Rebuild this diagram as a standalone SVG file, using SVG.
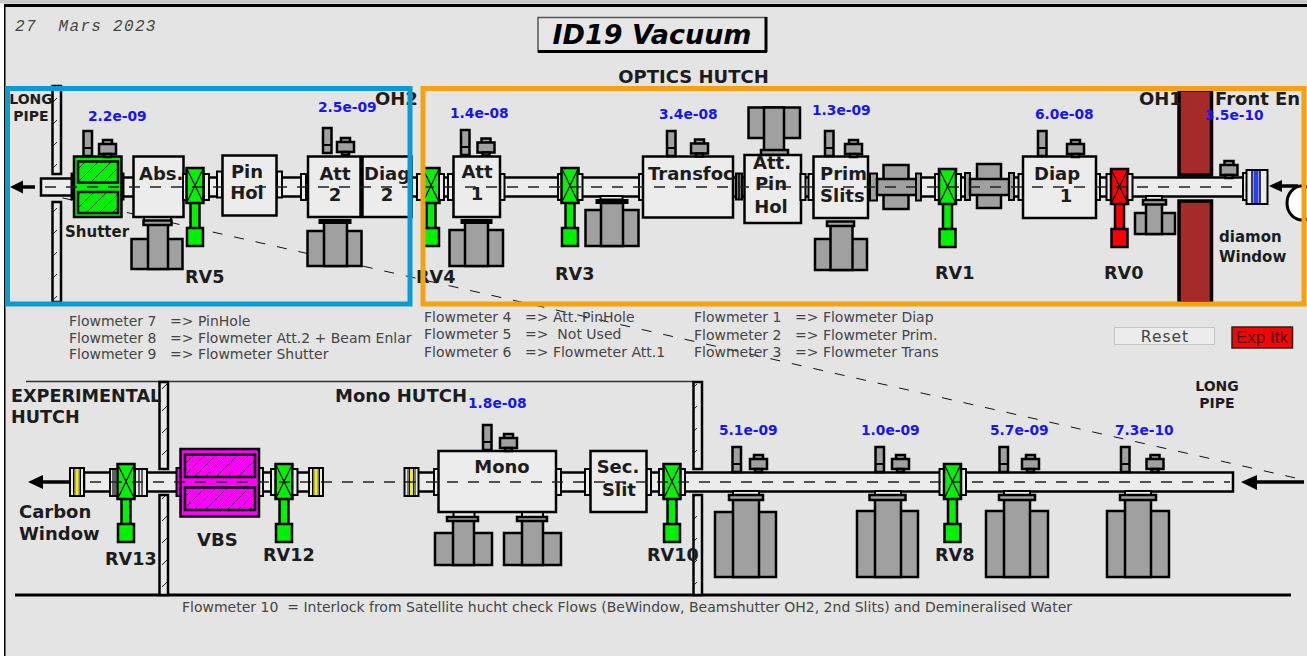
<svg xmlns="http://www.w3.org/2000/svg" xmlns:xlink="http://www.w3.org/1999/xlink" width="1307" height="656" viewBox="0 0 1307 656" stroke="#000">
<style>
text{stroke:none}
.p{fill:#ececec;stroke-width:2.5}
.f{fill:#ececec;stroke-width:2}
.df{fill:#a0a0a0;stroke-width:2}
.b{fill:#ececec;stroke-width:2.5}
.g{fill:#a0a0a0;stroke-width:2.5}
.k{fill:#000;stroke-width:1}
.w{fill:url(#wh);stroke-width:2.5}
.br{fill:#a52a2a;stroke-width:3.5}
.t{font-family:"DejaVu Sans",sans-serif;font-weight:700;fill:#1c1c1c}
.l17{font-size:17.600px}.l18{font-size:18px}.l15{font-size:15px}.l13{font-size:14px}
.v{font-family:"DejaVu Sans",sans-serif;font-weight:700;font-size:13.800px;fill:#1414ff}
.m{font-family:"DejaVu Sans",sans-serif;font-size:14px;fill:#444}
.c{text-anchor:middle}
.cl{fill:none;stroke:#222;stroke-width:1.500;stroke-dasharray:11 10}
.dg{fill:none;stroke:#111;stroke-width:1;stroke-dasharray:10 12}
.ar{fill:none;stroke:#000;stroke-width:3.500}
.ah{fill:#000;stroke:none}
</style>
<defs>
<pattern id="wh" patternUnits="userSpaceOnUse" width="10" height="22"><rect width="10" height="22" fill="#e8e8e8" stroke="none"/><path d="M2 15 L7 10" stroke="#222" stroke-width="1" fill="none"/></pattern>
<pattern id="gh" patternUnits="userSpaceOnUse" width="13" height="13"><rect width="13" height="13" fill="#00f000" stroke="none"/><path d="M-1 14 L14 -1" stroke="#222" stroke-width=".8" fill="none"/></pattern>
<pattern id="mh" patternUnits="userSpaceOnUse" width="11" height="11"><rect width="11" height="11" fill="#ff00ff" stroke="none"/><path d="M-1 12 L12 -1" stroke="#222" stroke-width=".8" fill="none" stroke-dasharray="7 2"/></pattern>
<g id="valve"><rect x="-4.500" y="16" width="9" height="27" stroke-width="2.500"/><rect x="-8" y="42" width="16" height="18" stroke-width="2.500"/><rect x="-8.500" y="-18" width="17" height="35" stroke-width="2.500"/><path d="M-8.500 -18 L8.500 17 M8.500 -18 L-8.500 17" fill="none" stroke-width="1.200"/></g>
<g id="gauge"><rect class="g" x="0" y="0" width="8.500" height="25"/><path d="M0 17H8.500" stroke-width="2" fill="none"/></g>
<g id="sp"><rect class="g" x="4" y="0" width="9" height="5" stroke-width="2"/><rect class="g" x="0" y="4" width="17" height="10" stroke-width="2.500"/><rect class="g" x="5" y="14" width="7" height="3" stroke-width="2"/></g>
<g id="yf"><rect class="f" x="0" y="0" width="14" height="28"/><path d="M3.500 0V28M5 0V28M9 0V28M10.500 0V28" stroke-width="1" fill="none"/><rect x="5.500" y="1" width="3" height="26" fill="#f0f000" stroke="none"/></g>
<rect id="fl" class="f" x="0" y="0" width="5" height="26"/>
</defs>

<rect x="0" y="0" width="1307" height="656" fill="#fff" stroke="none"/>
<rect x="5" y="0" width="1302" height="656" fill="#e4e4e4" stroke="none"/>
<rect x="0" y="0" width="1307" height="3.500" fill="#c8c8c8" stroke="none"/>
<rect x="4" y="4" width="1303" height="3" fill="#000" stroke="none"/>
<rect x="4" y="6" width="1.500" height="650" fill="#000" stroke="none"/>

<g id="connectors-back">
<path class="dg" d="M41 193 L1300 479"/>
</g>

<g id="frame-lines">
<path d="M26 381.500H693" fill="none" stroke="#333" stroke-width="1.500"/>
<path d="M15 595H1291" fill="none" stroke="#000" stroke-width="3"/>
</g>

<g id="pipes-upper">
<rect class="p" x="41" y="178.500" width="33" height="17"/>
<rect class="p" x="120" y="177.500" width="15" height="19"/>
<rect class="p" x="207" y="177.500" width="12" height="19"/>
<rect class="p" x="281" y="177.500" width="22" height="19"/>
<rect class="p" x="411" y="177.500" width="12" height="19"/>
<rect class="p" x="441" y="177.500" width="10" height="19"/>
<rect class="p" x="502" y="177.500" width="58" height="19"/>
<rect class="p" x="580" y="177.500" width="62" height="19"/>
<rect class="p" x="733" y="177.500" width="12" height="19"/>
<rect class="p" x="800" y="177.500" width="14" height="19"/>
<rect class="p" x="917" y="177.500" width="20" height="19"/>
<rect class="p" x="958" y="177.500" width="10" height="19"/>
<rect class="p" x="1012" y="177.500" width="10" height="19"/>
<rect class="p" x="1096" y="177.500" width="14" height="19"/>
<rect class="p" x="1130" y="177.500" width="116" height="19"/>
</g>
<g id="pipes-lower">
<rect class="p" x="84" y="472.500" width="27" height="19"/>
<rect class="p" x="146" y="472.500" width="32" height="19"/>
<rect class="p" x="262" y="472.500" width="10" height="19"/>
<rect class="p" x="296" y="472.500" width="14" height="19"/>
<rect class="p" x="417" y="472.500" width="19" height="19"/>
<rect class="p" x="560" y="472.500" width="26" height="19"/>
<rect class="p" x="650" y="472.500" width="10" height="19"/>
<rect class="p" x="684" y="472.500" width="549" height="19"/>
</g>

<g id="walls">
<rect class="w" x="52.500" y="86" width="8.500" height="88"/>
<rect class="w" x="52.500" y="202" width="8.500" height="100"/>
<rect class="br" x="1179" y="90" width="32.500" height="85"/>
<rect class="br" x="1179" y="201" width="32.500" height="102"/>
<rect class="w" x="159.500" y="382" width="8.500" height="87"/>
<rect class="w" x="159.500" y="495" width="8.500" height="100"/>
<rect class="w" x="693.500" y="382" width="8.500" height="87"/>
<rect class="w" x="693.500" y="495" width="8.500" height="100"/>
</g>

<g id="shutter">
<rect class="k" x="71" y="173" width="3" height="27"/>
<rect class="k" x="121" y="173" width="3" height="27"/>
<rect x="74" y="156.500" width="47.500" height="60.500" fill="#00f000" stroke-width="2.500"/>
<rect x="78" y="161.500" width="40" height="21" fill="url(#gh)" stroke-width="2.500"/>
<rect x="78" y="192" width="40" height="21" fill="url(#gh)" stroke-width="2.500"/>
<use xlink:href="#gauge" x="83.500" y="131"/>
<use xlink:href="#sp" x="99" y="140"/>
</g>

<g id="abs">
<rect class="f" x="144" y="217" width="27" height="4"/>
<rect class="g" x="131.500" y="239" width="51" height="30"/>
<rect class="g" x="148" y="224" width="20" height="45"/>
<rect class="g" x="143.500" y="220.500" width="28" height="4.500" stroke-width="2"/>
<rect class="b" x="133.500" y="156.500" width="50" height="60.500"/>
<use xlink:href="#fl" x="183" y="174"/>
</g>
<g id="rv5"><use xlink:href="#valve" x="195" y="186" fill="#00f000"/><use xlink:href="#fl" x="204" y="174"/></g>
<g id="pinhol">
<use xlink:href="#fl" x="217" y="171.500"/><use xlink:href="#fl" x="277" y="171.500"/>
<rect class="b" x="222.500" y="155.500" width="54" height="60"/>
</g>
<g id="att2">
<use xlink:href="#fl" x="301" y="174"/>
<rect class="g" x="307.500" y="231" width="54" height="35"/>
<rect class="g" x="324" y="222" width="23" height="44"/>
<rect class="k" x="319" y="219.500" width="32" height="4"/>
<rect class="b" x="308" y="156.500" width="52.500" height="60.500"/>
<use xlink:href="#gauge" x="323" y="128"/>
<use xlink:href="#sp" x="337" y="138"/>
</g>
<g id="diag2">
<rect class="b" x="362.500" y="156.500" width="49" height="60.500"/>
<path d="M361.500 156V218" stroke-width="3" fill="none"/>
</g>
<g id="rv4"><use xlink:href="#fl" x="417" y="174"/><use xlink:href="#valve" x="431" y="186" fill="#00f000"/><use xlink:href="#fl" x="439" y="174"/></g>
<g id="att1">
<use xlink:href="#fl" x="448" y="174"/><use xlink:href="#fl" x="499.500" y="174"/>
<rect class="g" x="449.500" y="230" width="53.500" height="36"/>
<rect class="g" x="465" y="222" width="23" height="44"/>
<rect class="k" x="461" y="219.500" width="31" height="4"/>
<rect class="b" x="453.500" y="156.500" width="46.500" height="60.500"/>
<use xlink:href="#gauge" x="461" y="130"/>
<use xlink:href="#sp" x="477.500" y="138.500"/>
</g>
<g id="rv3"><use xlink:href="#fl" x="558" y="174"/><use xlink:href="#valve" x="570" y="186" fill="#00f000"/><use xlink:href="#fl" x="577.500" y="174"/>
<rect class="g" x="585.500" y="210" width="53" height="36"/>
<rect class="g" x="601" y="203" width="22" height="43"/>
<rect class="f" x="600.500" y="196" width="22" height="3.500"/>
<rect class="k" x="596" y="199.500" width="32" height="4"/>
</g>
<g id="transfoc">
<use xlink:href="#fl" x="639" y="174"/>
<rect class="b" x="643" y="156.500" width="90" height="61"/>
<use xlink:href="#gauge" x="667" y="131"/>
<use xlink:href="#sp" x="691" y="139.500"/>
<rect x="736" y="173.500" width="6" height="26" fill="#777" stroke-width="2"/>
<path d="M739 173.500V199.500" stroke-width="1.500" fill="none"/>
</g>
<g id="attpinhol">
<rect class="g" x="748.500" y="107.500" width="51.500" height="30.500"/>
<rect class="g" x="764" y="107.500" width="20" height="45"/>
<rect class="g" x="761" y="150" width="27" height="5" stroke-width="2"/>
<rect class="b" x="744.500" y="155" width="56.500" height="68"/>
<use xlink:href="#fl" x="800.500" y="174"/>
</g>
<g id="prim">
<use xlink:href="#fl" x="808.500" y="174"/>
<rect class="g" x="815" y="239" width="52" height="31"/>
<rect class="g" x="830.500" y="224" width="22" height="46"/>
<rect class="g" x="827" y="221.500" width="27" height="4.500" stroke-width="2"/>
<rect class="b" x="813.500" y="156.500" width="54.500" height="61.500"/>
<use xlink:href="#gauge" x="825" y="131"/>
<use xlink:href="#sp" x="845" y="140"/>
</g>
<g id="beam1">
<rect class="df" x="870" y="173.500" width="7" height="27"/>
<rect class="g" x="883.500" y="165" width="25" height="44"/>
<rect class="g" x="877" y="179" width="40" height="16"/>
<rect class="df" x="916" y="173.500" width="5" height="27"/>
</g>
<g id="rv1"><use xlink:href="#fl" x="935" y="174"/><use xlink:href="#valve" x="947.500" y="187" fill="#00f000"/><use xlink:href="#fl" x="956" y="174"/></g>
<g id="beam2">
<rect class="df" x="965" y="173" width="5" height="27"/>
<rect class="g" x="977" y="164" width="24" height="44"/>
<rect class="g" x="970" y="179" width="39" height="16"/>
<rect class="df" x="1009" y="173" width="5" height="27"/>
</g>
<g id="diap1">
<use xlink:href="#fl" x="1018.500" y="174"/><use xlink:href="#fl" x="1095" y="174"/>
<rect class="b" x="1023" y="156.500" width="73" height="61.500"/>
<use xlink:href="#gauge" x="1038" y="131"/>
<use xlink:href="#sp" x="1067" y="140"/>
</g>
<g id="rv0"><use xlink:href="#fl" x="1106.500" y="174"/><use xlink:href="#valve" x="1119.500" y="187" fill="#f00"/><use xlink:href="#fl" x="1127.500" y="174"/>
<rect class="f" x="1146" y="196" width="16" height="4"/>
<rect class="g" x="1135" y="213" width="40" height="21"/>
<rect class="g" x="1146" y="203" width="16" height="31"/>
<rect class="g" x="1143" y="200" width="23" height="4.500" stroke-width="2"/>
<use xlink:href="#sp" x="1220.500" y="161" />
</g>
<g id="window">
<rect class="f" x="1243" y="173" width="5" height="27"/>
<rect class="f" x="1246.500" y="170" width="21" height="34"/>
<path d="M1252 170V204M1260 170V204" stroke-width="1.500" fill="none"/>
<rect x="1253.500" y="171" width="5" height="32" fill="#2a3cff" stroke="none"/>
<ellipse cx="1302" cy="203" rx="15" ry="17" fill="#fff" stroke-width="3"/>
</g>

<g id="left-lower">
<use xlink:href="#yf" x="70" y="468"/>
<rect class="f" x="110" y="469" width="8" height="27"/>
<path d="M113 469V496M115 469V496" stroke-width="1.200" fill="none"/>
<use xlink:href="#valve" x="126" y="482" fill="#00f000"/>
<rect class="f" x="135" y="469" width="12" height="27"/>
<path d="M139 469V496M142 469V496" stroke-width="1.200" fill="none"/>
</g>
<g id="vbs">
<rect class="f" x="176.500" y="468" width="4" height="28" style="fill:#f0f"/>
<rect class="f" x="259" y="468" width="4" height="28"/>
<rect x="180.500" y="449" width="78.500" height="67.500" fill="#f0f" stroke-width="2.500"/>
<rect x="185" y="454.500" width="70" height="22.500" fill="url(#mh)" stroke-width="2.500"/>
<rect x="185" y="487.500" width="70" height="22.500" fill="url(#mh)" stroke-width="2.500"/>
</g>
<g id="rv12">
<use xlink:href="#fl" x="271" y="469"/><use xlink:href="#valve" x="284" y="482" fill="#00f000"/><use xlink:href="#fl" x="292.500" y="469"/>
<use xlink:href="#yf" x="309" y="468"/>
</g>
<g id="mono">
<use xlink:href="#yf" x="404.500" y="468"/>
<use xlink:href="#fl" x="434" y="469"/><use xlink:href="#fl" x="556" y="469"/>
<rect class="f" x="453.500" y="512" width="21" height="5"/>
<rect class="f" x="522" y="512" width="21" height="5"/>
<rect class="g" x="435" y="533" width="57" height="32"/>
<rect class="g" x="453" y="520" width="21" height="45"/>
<rect class="g" x="447" y="517" width="31" height="4" stroke-width="2"/>
<rect class="g" x="504" y="533" width="57" height="32"/>
<rect class="g" x="522" y="520" width="21" height="45"/>
<rect class="g" x="517" y="517" width="30" height="4" stroke-width="2"/>
<rect class="b" x="438.500" y="451" width="117.500" height="61"/>
<use xlink:href="#gauge" x="483" y="425"/>
<use xlink:href="#sp" x="500" y="434"/>
</g>
<g id="secslit">
<use xlink:href="#fl" x="585" y="469"/><use xlink:href="#fl" x="646" y="469"/>
<rect class="b" x="590.500" y="451" width="56" height="61"/>
</g>
<g id="rv10"><use xlink:href="#fl" x="659" y="469"/><use xlink:href="#fl" x="680" y="469"/><use xlink:href="#valve" x="672" y="482" fill="#00f000"/></g>
<g id="tube1">
<use xlink:href="#gauge" x="732.500" y="447"/><use xlink:href="#sp" x="750" y="455"/>
<rect class="f" x="733" y="491" width="26" height="4"/>
<rect class="g" x="715" y="512" width="61" height="65"/>
<rect class="g" x="733" y="499" width="26" height="78"/>
<rect class="g" x="729" y="495" width="34" height="5" stroke-width="2"/>
</g>
<g id="tube2">
<use xlink:href="#gauge" x="875.500" y="447"/><use xlink:href="#sp" x="892" y="455"/>
<rect class="f" x="875" y="491" width="26" height="4"/>
<rect class="g" x="857" y="511" width="61" height="66"/>
<rect class="g" x="875" y="499" width="26" height="78"/>
<rect class="g" x="869.500" y="495" width="36" height="5" stroke-width="2"/>
</g>
<g id="rv8"><use xlink:href="#fl" x="939.500" y="469"/><use xlink:href="#fl" x="961" y="469"/><use xlink:href="#valve" x="952.500" y="482" fill="#00f000"/></g>
<g id="tube3">
<use xlink:href="#gauge" x="999.500" y="447"/><use xlink:href="#sp" x="1022" y="455"/>
<rect class="f" x="1004" y="491" width="26" height="4"/>
<rect class="g" x="986" y="511" width="62" height="66"/>
<rect class="g" x="1004" y="499" width="26" height="78"/>
<rect class="g" x="999" y="495" width="36" height="5" stroke-width="2"/>
</g>
<g id="tube4">
<use xlink:href="#gauge" x="1121" y="447"/><use xlink:href="#sp" x="1146.500" y="455"/>
<rect class="f" x="1125" y="491" width="26" height="4"/>
<rect class="g" x="1107" y="511" width="62" height="66"/>
<rect class="g" x="1125" y="499" width="26" height="78"/>
<rect class="g" x="1120" y="495" width="36" height="5" stroke-width="2"/>
</g>

<g id="connectors">
<path class="cl" d="M45 187H1240"/>
<path class="cl" d="M90 482H1230"/>
<path class="ar" d="M18 187H35"/><path class="ah" d="M10 187L23 180.500V193.500Z"/>
<path class="ar" d="M1280 186H1298"/><path class="ah" d="M1269 186L1282 180V192Z"/>
<path class="ar" d="M40 482H70"/><path class="ah" d="M28 482L43 475V489Z"/>
<path class="ar" d="M1252 482H1304"/><path class="ah" d="M1241 482L1257 475V490Z"/>
</g>

<g id="labels">
<text x="15" y="31" xml:space="preserve" font-family="'Liberation Mono',monospace" font-style="italic" font-size="16" letter-spacing="1.300" fill="#444">27  Mars 2023</text>
<g id="title"><rect x="538" y="17.500" width="228" height="34.500" fill="#e6e6e6" stroke="#555" stroke-width="1.500"/><path d="M538 51.500H767M766 17V52" stroke="#000" stroke-width="3" fill="none"/>
<text x="652" y="44" class="c" font-family="'DejaVu Sans',sans-serif" font-weight="700" font-style="italic" font-size="27" fill="#000">ID19 Vacuum</text></g>
<text class="t l18 c" x="693.500" y="83">OPTICS HUTCH</text>
<text class="t l13 c" x="31" y="104">LONG</text><text class="t l13 c" x="31" y="121">PIPE</text>
<text class="v" x="88" y="121">2.2e-09</text><text class="v" x="318" y="112">2.5e-09</text>
<text class="t l18" x="375" y="105">OH2</text>
<text class="t l15" x="65" y="237">Shutter</text>
<text class="t l18" x="139" y="180">Abs.</text>
<text class="t l18 c" x="247" y="178">Pin</text><text class="t l18 c" x="247" y="199">Hol</text>
<text class="t l18 c" x="335" y="180">Att</text><text class="t l18 c" x="335" y="201">2</text>
<text class="t l18" x="364" y="180">Diag</text><text class="t l18 c" x="387" y="201">2</text>
<text class="t l17" x="185" y="283">RV5</text><text class="t l17" x="416" y="283">RV4</text>
<text class="v" x="450" y="118">1.4e-08</text>
<text class="t l18 c" x="477" y="178">Att</text><text class="t l18 c" x="477" y="200">1</text>
<text class="t l17" x="555" y="280">RV3</text>
<text class="v" x="659" y="119">3.4e-08</text>
<text class="t l18" x="648" y="180">Transfoc</text>
<text class="t l18 c" x="772" y="169">Att.</text><text class="t l18 c" x="771" y="190">Pin</text><text class="t l18 c" x="771" y="213">Hol</text>
<text class="v" x="812" y="115">1.3e-09</text>
<text class="t l18" x="820" y="180">Prim</text><text class="t l18" x="820" y="202">Slits</text>
<text class="t l17" x="935" y="279">RV1</text>
<text class="v" x="1035" y="119">6.0e-08</text>
<text class="t l18" x="1034" y="180">Diap</text><text class="t l18 c" x="1066" y="202">1</text>
<text class="t l17" x="1104" y="279">RV0</text>
<text class="t l18" x="1139" y="105">OH1</text><text class="t l18" x="1215" y="105">Front En</text>
<text class="v" x="1205" y="120">3.5e-10</text>
<text class="t l15" x="1219" y="242">diamon</text><text class="t l15" x="1219" y="262">Window</text>

<text class="m" x="69" y="326">Flowmeter 7</text><text class="m" x="170" y="326">=&gt; PinHole</text>
<text class="m" x="69" y="343">Flowmeter 8</text><text class="m" x="170" y="343">=&gt; Flowmeter Att.2 + Beam Enlar</text>
<text class="m" x="69" y="359">Flowmeter 9</text><text class="m" x="170" y="359">=&gt; Flowmeter Shutter</text>
<text class="m" x="424" y="322">Flowmeter 4</text><text class="m" x="525" y="322">=&gt; Att. PinHole</text>
<text class="m" x="424" y="339">Flowmeter 5</text><text class="m" x="525" y="339" xml:space="preserve">=&gt;  Not Used</text>
<text class="m" x="424" y="357">Flowmeter 6</text><text class="m" x="525" y="357">=&gt; Flowmeter Att.1</text>
<text class="m" x="694" y="322">Flowmeter 1</text><text class="m" x="795" y="322">=&gt; Flowmeter Diap</text>
<text class="m" x="694" y="340">Flowmeter 2</text><text class="m" x="795" y="340">=&gt; Flowmeter Prim.</text>
<text class="m" x="694" y="357">Flowmeter 3</text><text class="m" x="795" y="357">=&gt; Flowmeter Trans</text>

<g id="reset"><rect x="1114.500" y="327.500" width="100" height="17" fill="#ececec" stroke="#c4c4c4" stroke-width="1"/><text x="1165" y="342" class="m c" style="font-size:15.500px" letter-spacing="1">Reset</text></g>
<g id="expitk"><rect x="1232" y="327" width="60.500" height="21" fill="#f00" stroke="#222" stroke-width="1.500"/><text x="1262" y="343" text-anchor="middle" font-family="'Liberation Sans',sans-serif" font-size="17" fill="#400">Exp Itk</text></g>

<text class="t l13 c" x="1217" y="391">LONG</text><text class="t l13 c" x="1217" y="408">PIPE</text>
<text class="t l17" x="11" y="402">EXPERIMENTAL</text><text class="t l17" x="11" y="423">HUTCH</text>
<text class="t l18" x="335" y="402">Mono HUTCH</text>
<text class="v" x="468" y="408">1.8e-08</text>
<text class="v" x="719" y="435">5.1e-09</text><text class="v" x="861" y="435">1.0e-09</text><text class="v" x="990" y="435">5.7e-09</text><text class="v" x="1115" y="435">7.3e-10</text>
<text class="t l18 c" x="502" y="473">Mono</text>
<text class="t l18 c" x="618" y="473">Sec.</text><text class="t l18 c" x="619" y="496">Slit</text>
<text class="t l17" x="105" y="565">RV13</text><text class="t l17" x="263" y="561">RV12</text><text class="t l17" x="647" y="561">RV10</text><text class="t l17" x="935" y="561">RV8</text>
<text class="t l18" x="197" y="546">VBS</text>
<text class="t l18" x="19" y="518">Carbon</text><text class="t l18" x="19" y="540">Window</text>
<text class="m" x="182" y="612" xml:space="preserve">Flowmeter 10  = Interlock from Satellite hucht check Flows (BeWindow, Beamshutter OH2, 2nd Slits) and Demineralised Water</text>
</g>

<g id="highlights">
<rect x="7.500" y="88.500" width="402.500" height="215.500" fill="none" stroke="#0a9bd3" stroke-width="5"/>
<rect x="423" y="88.500" width="881" height="215.500" fill="none" stroke="#f2a40e" stroke-width="5"/>
</g>
</svg>
